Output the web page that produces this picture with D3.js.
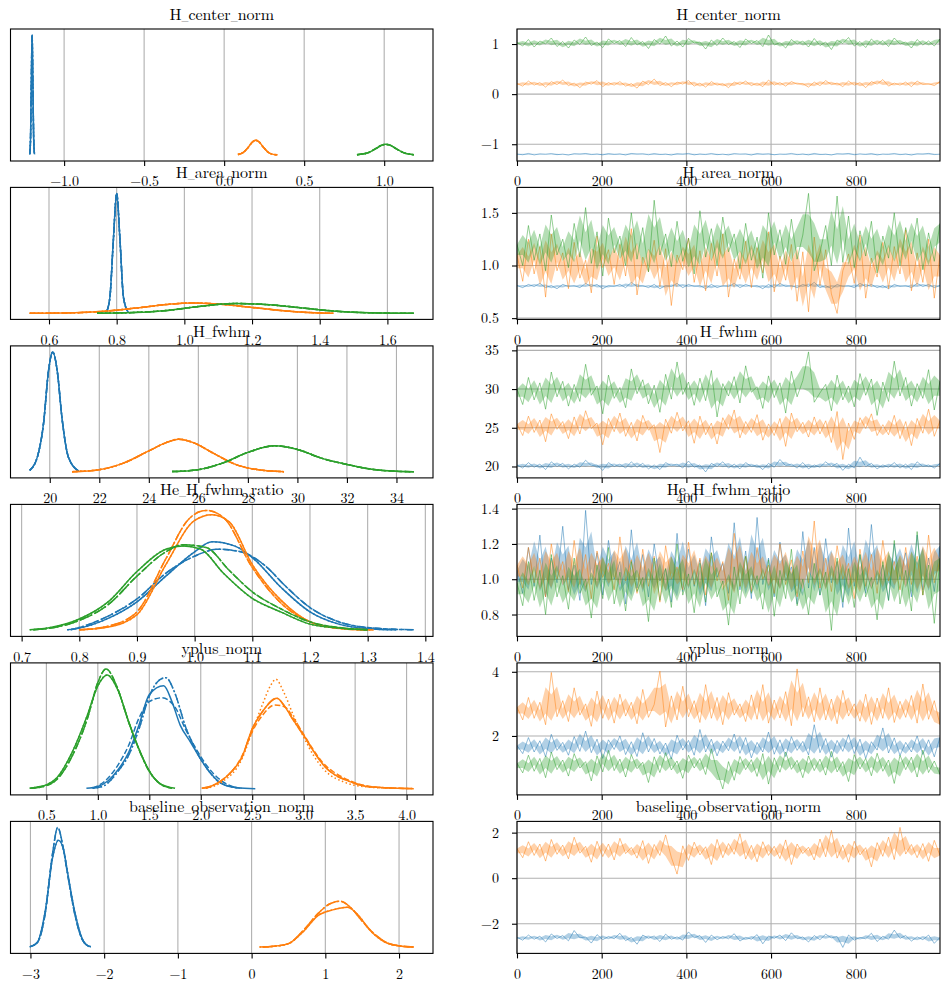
<!DOCTYPE html>
<html><head><meta charset="utf-8">
<script src="https://cdn.jsdelivr.net/npm/d3@7"></script>
<style>body{margin:0;background:#fff}</style>
</head><body><svg id="chart" width="950" height="991"></svg>
<script>
// ---------------- DATA ----------------
const variables = ["H_center_norm","H_area_norm","H_fwhm","He_H_fwhm_ratio","yplus_norm","baseline_observation_norm"];
const seriesColors = ["#1f77b4","#ff7f0e","#2ca02c"];
const drawTicks = [0,200,400,600,800];
const drawTickLabels = ["0","200","400","600","800"];
const kdeTicks = [[-1,-0.5,0,0.5,1],[0.6,0.8,1.0,1.2,1.4,1.6],[20,22,24,26,28,30,32,34],[0.7,0.8,0.9,1.0,1.1,1.2,1.3,1.4],[0.5,1,1.5,2,2.5,3,3.5,4],[-3,-2,-1,0,1,2]];
const kdeTickLabels = [["−1.0","−0.5","0.0","0.5","1.0"],["0.6","0.8","1.0","1.2","1.4","1.6"],["20","22","24","26","28","30","32","34"],["0.7","0.8","0.9","1.0","1.1","1.2","1.3","1.4"],["0.5","1.0","1.5","2.0","2.5","3.0","3.5","4.0"],["−3","−2","−1","0","1","2"]];
const traceTicks = [[-1,0,1],[0.5,1.0,1.5],[20,25,30,35],[0.8,1.0,1.2,1.4],[2,4],[-2,0,2]];
const traceTickLabels = [["−1","0","1"],["0.5","1.0","1.5"],["20","25","30","35"],["0.8","1.0","1.2","1.4"],["2","4"],["−2","0","2"]];

// KDE curves [value, density]
const kde_Hc_blue = [[-1.215,0.5],[-1.21,10],[-1.205,46],[-1.2,80],[-1.195,46],[-1.19,10],[-1.185,0.5]];
const kde_Hc_orange = [[0.086,0.3],[0.12,1.8],[0.15,5.0],[0.175,8.5],[0.197,9.9],[0.22,8.6],[0.245,5.2],[0.275,1.8],[0.3,0.6],[0.332,0.1]];
const kde_Hc_green = [[0.83,0.2],[0.9,1.5],[0.95,4.4],[0.98,6.3],[1.01,7.1],[1.04,6.4],[1.07,4.5],[1.12,1.6],[1.185,0.2]];

const kde_Ha_blue = [[0.77,0.5],[0.78,5.4],[0.79,24],[0.80,40],[0.81,24],[0.82,5.4],[0.834,0.4]];
const kde_Ha_orange = [[0.543,0.05],[0.65,0.15],[0.75,0.6],[0.85,1.7],[0.95,3.0],[1.02,3.5],[1.1,3.1],[1.2,2.0],[1.3,0.8],[1.4,0.15],[1.44,0.05]];
const kde_Ha_green = [[0.742,0.05],[0.85,0.3],[0.95,1.0],[1.05,2.4],[1.15,3.3],[1.25,2.9],[1.35,1.8],[1.45,0.7],[1.55,0.2],[1.678,0.03]];

const kde_Hf_blue = [[19.19,0.02],[19.5,0.2],[19.75,0.65],[19.95,1.35],[20.12,1.6],[20.3,1.35],[20.5,0.7],[20.75,0.2],[21.17,0.01]];
const kde_Hf_orange = [[20.9,0.003],[22,0.03],[23,0.12],[24,0.28],[24.7,0.39],[25.2,0.437],[25.8,0.39],[26.6,0.25],[27.5,0.1],[28.5,0.025],[29.46,0.003]];
const kde_Hf_green = [[24.94,0.004],[26,0.03],[27,0.12],[28,0.26],[29.08,0.348],[30,0.3],[31,0.18],[32,0.1],[33,0.035],[34,0.008],[34.7,0.002]];

const kde_Hr_blue_a = [[0.779,0.02],[0.8,0.08],[0.85,0.42],[0.9,1.0],[0.95,1.9],[1.0,2.75],[1.03,3.1],[1.07,2.95],[1.1,2.55],[1.15,1.5],[1.2,0.65],[1.25,0.22],[1.3,0.06],[1.35,0.02]];
const kde_Hr_blue_b = [[0.785,0.02],[0.8,0.1],[0.85,0.5],[0.9,1.1],[0.95,2.0],[1.0,2.6],[1.04,2.84],[1.08,2.75],[1.12,2.3],[1.16,1.5],[1.2,0.8],[1.25,0.3],[1.3,0.1],[1.38,0.02]];
const kde_Hr_orange_a = [[0.8,0.02],[0.85,0.12],[0.9,0.55],[0.95,2.3],[1.0,3.85],[1.03,4.05],[1.06,3.8],[1.1,2.3],[1.15,1.05],[1.2,0.3],[1.25,0.08],[1.31,0.01]];
const kde_Hr_orange_b = [[0.8,0.02],[0.85,0.15],[0.9,0.65],[0.95,2.5],[0.99,3.9],[1.02,4.2],[1.05,3.95],[1.1,2.2],[1.15,0.95],[1.2,0.3],[1.25,0.07],[1.3,0.01]];
const kde_Hr_green_a = [[0.714,0.02],[0.75,0.1],[0.8,0.4],[0.85,1.0],[0.9,2.06],[0.95,2.84],[0.98,2.95],[1.01,2.85],[1.05,2.0],[1.1,1.12],[1.15,0.64],[1.2,0.22],[1.25,0.08],[1.3,0.02]];
const kde_Hr_green_b = [[0.72,0.02],[0.75,0.08],[0.8,0.35],[0.85,0.9],[0.9,1.9],[0.95,2.75],[0.98,3.0],[1.02,2.9],[1.06,2.1],[1.1,1.35],[1.15,0.75],[1.2,0.3],[1.25,0.1],[1.3,0.02]];

const kde_yp_blue_a = [[0.889,0.01],[1.0,0.045],[1.1,0.15],[1.2,0.36],[1.3,0.67],[1.4,1.17],[1.5,1.73],[1.64,1.89],[1.72,1.6],[1.8,1.17],[1.9,0.86],[2.0,0.54],[2.1,0.28],[2.2,0.1],[2.35,0.02],[2.53,0.005]];
const kde_yp_blue_b = [[0.95,0.01],[1.05,0.05],[1.2,0.33],[1.3,0.62],[1.4,1.1],[1.5,1.7],[1.6,2.0],[1.66,2.04],[1.75,1.75],[1.85,1.15],[1.95,0.72],[2.05,0.4],[2.2,0.1],[2.4,0.01]];
const kde_yp_blue_c = [[0.95,0.01],[1.1,0.2],[1.2,0.45],[1.3,0.8],[1.4,1.3],[1.5,1.6],[1.62,1.67],[1.75,1.5],[1.85,1.1],[1.95,0.75],[2.05,0.45],[2.2,0.15],[2.35,0.02]];
const kde_yp_orange_a = [[2.01,0.01],[2.1,0.05],[2.2,0.15],[2.3,0.32],[2.4,0.58],[2.5,1.1],[2.6,1.42],[2.74,1.66],[2.82,1.5],[2.9,1.26],[3.0,0.98],[3.1,0.68],[3.2,0.42],[3.3,0.26],[3.4,0.17],[3.5,0.1],[3.6,0.05],[3.8,0.02],[4.07,0.005]];
const kde_yp_orange_b = [[2.05,0.01],[2.2,0.12],[2.4,0.55],[2.5,1.05],[2.6,1.55],[2.68,1.9],[2.73,2.01],[2.8,1.8],[2.9,1.35],[3.0,0.95],[3.1,0.6],[3.2,0.35],[3.4,0.12],[3.6,0.04],[3.9,0.01]];
const kde_yp_orange_c = [[2.05,0.01],[2.2,0.15],[2.4,0.6],[2.5,1.05],[2.6,1.35],[2.72,1.54],[2.82,1.5],[2.9,1.3],[3.0,1.0],[3.1,0.7],[3.2,0.45],[3.3,0.3],[3.45,0.15],[3.6,0.06],[3.8,0.02],[4.07,0.005]];
const kde_yp_green_a = [[0.338,0.01],[0.4,0.03],[0.5,0.075],[0.6,0.2],[0.75,0.67],[0.9,1.36],[1.0,1.89],[1.09,2.09],[1.2,1.79],[1.3,1.23],[1.4,0.73],[1.5,0.33],[1.6,0.1],[1.75,0.01]];
const kde_yp_green_b = [[0.35,0.01],[0.5,0.06],[0.6,0.17],[0.75,0.6],[0.9,1.3],[1.0,1.95],[1.08,2.2],[1.18,1.9],[1.3,1.22],[1.4,0.72],[1.5,0.32],[1.6,0.1],[1.72,0.01]];

const kde_bo_blue_a = [[-3.01,0.02],[-2.95,0.06],[-2.9,0.15],[-2.8,0.96],[-2.7,2.39],[-2.62,2.86],[-2.55,2.6],[-2.5,2.04],[-2.4,0.96],[-2.3,0.24],[-2.25,0.08],[-2.18,0.02]];
const kde_bo_blue_b = [[-3.0,0.02],[-2.9,0.15],[-2.8,0.9],[-2.7,2.5],[-2.63,3.2],[-2.56,2.7],[-2.5,2.0],[-2.4,0.9],[-2.3,0.22],[-2.2,0.02]];
const kde_bo_orange_a = [[0.107,0.01],[0.3,0.03],[0.5,0.1],[0.7,0.42],[0.9,0.85],[1.1,1.0],[1.3,1.07],[1.45,0.85],[1.6,0.47],[1.8,0.15],[2.0,0.04],[2.197,0.01]];
const kde_bo_orange_b = [[0.15,0.01],[0.3,0.03],[0.5,0.1],[0.7,0.45],[0.9,0.9],[1.05,1.15],[1.2,1.23],[1.35,1.05],[1.5,0.7],[1.7,0.3],[1.9,0.08],[2.2,0.01]];

// chains per series: solid, dashed, dotted, dash-dot
const kdeChains = [
  [[kde_Hc_blue,kde_Hc_blue,kde_Hc_blue,kde_Hc_blue],[kde_Hc_orange,kde_Hc_orange,kde_Hc_orange,kde_Hc_orange],[kde_Hc_green,kde_Hc_green,kde_Hc_green,kde_Hc_green]],
  [[kde_Ha_blue,kde_Ha_blue,kde_Ha_blue,kde_Ha_blue],[kde_Ha_orange,kde_Ha_orange,kde_Ha_orange,kde_Ha_orange],[kde_Ha_green,kde_Ha_green,kde_Ha_green,kde_Ha_green]],
  [[kde_Hf_blue,kde_Hf_blue,kde_Hf_blue,kde_Hf_blue],[kde_Hf_orange,kde_Hf_orange,kde_Hf_orange,kde_Hf_orange],[kde_Hf_green,kde_Hf_green,kde_Hf_green,kde_Hf_green]],
  [[kde_Hr_blue_a,kde_Hr_blue_b,kde_Hr_blue_a,kde_Hr_blue_b],[kde_Hr_orange_a,kde_Hr_orange_b,kde_Hr_orange_a,kde_Hr_orange_b],[kde_Hr_green_a,kde_Hr_green_b,kde_Hr_green_a,kde_Hr_green_b]],
  [[kde_yp_blue_a,kde_yp_blue_c,kde_yp_blue_b,kde_yp_blue_b],[kde_yp_orange_a,kde_yp_orange_c,kde_yp_orange_b,kde_yp_orange_a],[kde_yp_green_a,kde_yp_green_b,kde_yp_green_a,kde_yp_green_b]],
  [[kde_bo_blue_a,kde_bo_blue_b,kde_bo_blue_a,kde_bo_blue_b],[kde_bo_orange_a,kde_bo_orange_b,kde_bo_orange_a,kde_bo_orange_b]]
];

// Trace values (thinned draws 0..999)
const trace_Hc_blue = [-1.196,-1.21,-1.184,-1.213,-1.192,-1.202,-1.186,-1.208,-1.198,-1.215,-1.188,-1.2,-1.185,-1.206,-1.194,-1.212,-1.186,-1.204,-1.192,-1.214,-1.185,-1.2,-1.19,-1.21,-1.186,-1.206,-1.196,-1.215,-1.188,-1.202,-1.184,-1.212,-1.194,-1.206,-1.185,-1.208,-1.198,-1.213,-1.186,-1.2,-1.192,-1.215,-1.185,-1.204,-1.19,-1.21,-1.196,-1.202,-1.184,-1.208,-1.194,-1.212,-1.184,-1.206,-1.198,-1.214,-1.188,-1.2,-1.185,-1.21,-1.192,-1.204,-1.186,-1.213,-1.196,-1.202,-1.185,-1.208,-1.194,-1.215,-1.19,-1.2,-1.184,-1.206,-1.198];
const trace_Hc_orange = [0.21,0.16,0.26,0.18,0.23,0.14,0.25,0.19,0.28,0.17,0.22,0.13,0.24,0.2,0.27,0.15,0.23,0.18,0.25,0.16,0.21,0.12,0.26,0.19,0.3,0.17,0.23,0.15,0.24,0.2,0.27,0.16,0.22,0.14,0.25,0.18,0.21,0.13,0.24,0.19,0.26,0.17,0.22,0.15,0.28,0.18,0.23,0.16,0.25,0.2,0.21,0.14,0.24,0.17,0.27,0.19,0.22,0.15,0.26,0.18,0.23,0.13,0.25,0.2,0.29,0.16,0.22,0.18,0.24,0.15,0.26,0.19,0.21,0.17,0.25];
const trace_Hc_green = [1.03,0.96,1.09,0.94,1.06,1.0,1.12,0.95,1.05,0.92,1.08,0.99,1.14,0.97,1.04,0.93,1.1,1.01,1.07,0.95,1.13,0.98,1.05,0.91,1.09,1.0,1.16,0.96,1.06,0.94,1.11,1.02,1.04,0.9,1.08,0.97,1.12,0.99,1.05,0.93,1.1,1.01,1.07,0.95,1.18,0.98,1.03,0.92,1.09,1.0,1.06,0.94,1.11,0.97,1.04,0.89,1.08,1.01,1.13,0.96,1.05,0.93,1.1,0.99,1.07,0.95,1.12,1.0,1.04,0.92,1.09,0.98,1.06,0.96,1.1];

const trace_Ha_blue = [0.81,0.79,0.82,0.8,0.83,0.79,0.81,0.78,0.82,0.8,0.81,0.79,0.83,0.8,0.82,0.78,0.81,0.8,0.82,0.79,0.84,0.8,0.81,0.79,0.82,0.78,0.81,0.8,0.83,0.79,0.82,0.8,0.81,0.78,0.82,0.79,0.81,0.8,0.83,0.79,0.82,0.8,0.81,0.78,0.82,0.79,0.83,0.8,0.81,0.79,0.82,0.8,0.84,0.79,0.81,0.78,0.82,0.8,0.81,0.79,0.83,0.8,0.82,0.79,0.81,0.78,0.82,0.8,0.81,0.79,0.83,0.8,0.82,0.79,0.81];
const trace_Ha_orange = [1.1,0.85,1.25,0.92,1.18,0.7,1.3,0.95,1.12,0.78,1.22,0.88,1.05,0.74,1.28,0.98,1.15,0.82,1.2,0.9,1.35,0.72,1.08,0.94,1.24,0.8,1.16,0.62,1.1,0.96,1.26,0.84,1.14,0.76,1.21,0.9,1.3,0.7,1.06,0.87,1.23,0.79,1.17,0.93,1.32,0.75,1.09,0.86,1.2,0.66,1.13,0.56,1.27,0.81,1.15,0.73,0.545,0.95,1.11,0.83,1.29,0.69,1.07,0.89,1.22,0.78,1.18,0.92,1.34,0.76,1.12,0.84,1.25,0.69,1.1];
const trace_Ha_green = [1.2,1.0,1.38,1.05,1.3,0.95,1.48,1.1,1.25,0.98,1.4,1.08,1.55,1.02,1.32,0.9,1.45,1.12,1.28,1.0,1.5,1.06,1.36,0.94,1.62,1.1,1.3,0.99,1.42,1.04,1.26,0.92,1.52,1.08,1.35,1.0,1.46,1.13,1.3,0.97,1.4,1.05,1.27,0.88,1.5,1.1,1.34,1.01,1.44,1.06,1.29,1.685,0.95,1.12,1.38,1.0,1.66,1.03,1.47,0.98,1.33,1.09,1.42,0.93,1.28,1.07,1.5,1.0,1.36,1.11,1.45,0.96,1.31,1.04,1.4];

const trace_Hf_blue = [20.2,19.8,20.5,19.9,20.3,19.6,20.6,20.0,20.4,19.7,20.3,19.9,20.8,20.1,20.2,19.5,20.5,20.0,20.3,19.8,20.6,19.9,20.4,19.7,20.2,19.6,20.5,20.1,20.3,19.8,20.7,19.9,20.2,19.3,20.4,20.0,20.6,19.8,20.3,19.7,20.5,20.0,20.2,19.6,20.4,19.9,20.9,20.1,20.3,19.8,20.5,19.7,20.2,19.9,20.6,20.0,20.4,19.5,20.3,19.8,21.2,20.0,20.4,19.7,20.2,19.9,20.5,19.8,20.3,19.6,20.6,20.0,20.2,19.8,20.4];
const trace_Hf_orange = [25.5,24.0,26.5,24.4,26.0,23.2,26.8,24.8,25.8,23.6,26.4,24.2,27.2,24.9,25.6,22.8,26.2,24.5,26.9,23.9,25.7,23.3,26.6,24.7,25.4,21.8,26.1,24.3,27.0,24.6,25.9,23.0,26.5,24.1,25.6,22.9,26.3,24.8,27.3,23.7,25.8,24.4,26.7,23.4,25.5,24.0,26.2,22.6,26.9,24.5,25.7,23.8,26.4,24.2,25.9,23.1,27.1,20.9,25.6,23.5,26.3,24.9,26.8,24.0,25.4,24.1,26.6,23.6,25.8,22.7,26.2,24.3,27.4,23.9,25.9];
const trace_Hf_green = [30.0,28.0,31.5,28.6,30.8,27.4,32.2,29.0,31.0,27.8,30.6,28.4,33.2,29.2,30.4,26.8,31.8,28.8,30.2,27.6,32.6,29.4,31.2,28.1,30.5,27.0,31.9,28.7,33.5,29.3,30.9,27.9,31.4,28.5,32.4,26.4,30.7,29.1,31.6,28.2,33.0,29.6,30.3,27.5,31.7,28.9,30.8,26.9,32.3,29.0,31.1,34.8,28.3,29.5,30.6,27.2,31.8,28.6,30.4,27.7,32.0,29.2,31.3,26.6,30.9,28.4,33.6,29.1,31.5,27.8,30.7,28.8,32.5,27.3,31.0];

const trace_Hr_blue = [1.05,0.92,1.18,0.96,1.25,0.9,1.12,0.98,1.3,0.94,1.08,0.88,1.39,0.97,1.15,0.91,1.22,1.0,1.1,0.86,1.28,0.95,1.14,0.9,1.2,0.99,1.06,0.87,1.26,0.93,1.17,0.96,1.11,0.85,1.24,1.01,1.09,0.92,1.32,0.94,1.16,0.89,1.35,0.97,1.12,0.9,1.21,0.99,1.07,0.86,1.27,0.95,1.18,0.91,1.23,0.98,1.1,0.84,1.29,0.96,1.14,0.92,1.31,0.97,1.08,0.88,1.2,1.0,1.15,0.9,1.25,0.94,1.12,0.93,1.19];
const trace_Hr_orange = [1.08,0.95,1.18,0.98,1.12,0.9,1.2,1.0,1.1,0.93,1.22,0.97,1.14,0.89,1.16,1.01,1.09,0.94,1.24,0.99,1.11,0.92,1.17,0.96,1.13,0.87,1.19,1.0,1.07,0.94,1.21,0.97,1.12,0.91,1.15,0.99,1.1,0.88,1.26,0.96,1.13,0.93,1.18,1.0,1.08,0.92,1.2,0.97,1.11,0.9,1.16,0.98,1.33,0.95,1.12,0.93,1.19,1.0,1.09,0.89,1.17,0.96,1.14,0.92,1.22,0.99,1.1,0.94,1.18,0.97,1.13,0.91,1.25,0.98,1.11];
const trace_Hr_green = [0.98,0.85,1.1,0.88,1.05,0.8,1.14,0.9,1.02,0.83,1.12,0.92,1.0,0.78,1.08,0.89,1.18,0.86,1.04,0.82,1.1,0.93,1.01,0.76,1.12,0.88,1.06,0.84,1.2,0.91,1.03,0.81,1.09,0.87,1.15,0.9,0.99,0.74,1.07,0.86,1.13,0.92,1.02,0.83,1.11,0.79,1.05,0.89,1.17,0.85,1.0,0.8,1.09,0.91,1.04,0.71,1.12,0.87,1.06,0.84,1.14,0.9,1.01,0.77,1.1,0.88,1.22,0.86,1.05,0.82,1.27,0.91,1.08,0.75,1.12];

const trace_yp_blue = [1.7,1.45,1.95,1.5,1.85,1.35,2.05,1.55,1.8,1.4,1.98,1.52,2.15,1.48,1.9,1.3,1.88,1.58,2.0,1.42,1.82,1.36,2.1,1.5,1.92,1.44,1.78,1.28,2.02,1.56,1.86,1.4,2.2,1.5,1.9,1.38,1.84,1.54,2.06,1.46,1.95,1.32,1.8,1.5,2.12,1.43,1.88,1.36,1.98,1.55,1.83,1.41,2.35,1.48,1.92,1.34,1.86,1.52,2.04,1.45,1.9,1.3,1.82,1.56,2.25,1.47,1.94,1.39,1.8,1.5,2.0,1.42,1.88,1.35,1.96];
const trace_yp_orange = [2.9,2.5,3.2,2.55,3.05,2.35,3.98,2.6,3.1,2.45,3.5,2.65,3.0,2.3,3.4,2.55,3.15,2.4,3.3,2.62,3.05,2.38,3.45,2.58,2.98,4.02,2.28,3.25,2.5,3.55,2.6,3.1,2.42,3.6,2.55,3.2,2.35,3.35,2.65,3.0,2.45,3.28,2.52,3.6,2.4,3.12,2.56,3.38,2.32,4.09,2.6,3.22,2.44,3.5,2.5,3.15,2.38,3.42,2.62,3.0,2.46,3.3,2.36,3.18,2.55,3.5,2.42,3.08,2.58,3.26,2.4,3.62,2.52,3.1,2.35];
const trace_yp_green = [1.15,0.85,1.4,0.9,1.3,0.7,1.5,0.95,1.25,0.75,1.45,1.0,1.2,0.6,1.38,0.88,1.55,0.92,1.28,0.72,1.42,0.98,1.18,0.55,1.35,0.86,1.48,0.94,1.22,0.68,1.4,1.0,1.3,0.8,1.6,0.9,0.35,1.2,0.62,1.36,0.95,1.26,0.74,1.45,0.5,1.32,0.87,1.5,0.96,1.24,0.7,1.38,0.92,1.28,0.78,1.52,0.88,1.2,0.58,1.42,0.97,1.3,0.76,1.46,0.9,1.25,0.52,1.4,0.95,1.34,0.72,1.56,0.86,1.22,0.8];

const trace_bo_blue = [-2.6,-2.72,-2.5,-2.68,-2.55,-2.8,-2.45,-2.65,-2.52,-2.75,-2.3,-2.62,-2.58,-2.85,-2.48,-2.7,-2.56,-2.66,-2.42,-2.74,-2.6,-2.9,-2.5,-2.64,-2.54,-2.78,-2.46,-2.68,-2.58,-2.72,-2.36,-2.62,-2.52,-2.82,-2.5,-2.7,-2.56,-2.66,-2.44,-2.76,-2.6,-2.68,-2.48,-2.88,-2.54,-2.64,-2.5,-2.74,-2.4,-2.66,-2.58,-2.8,-2.52,-2.7,-2.46,-2.62,-2.56,-3.04,-2.5,-2.72,-2.6,-2.66,-2.42,-2.78,-2.55,-2.68,-2.28,-2.64,-2.52,-2.76,-2.58,-2.7,-2.5,-2.86,-2.6];
const trace_bo_orange = [1.3,0.9,1.6,1.0,1.5,0.75,1.7,1.05,1.45,0.85,1.8,1.1,1.4,0.7,1.62,0.95,1.5,0.8,1.75,1.08,1.35,0.88,1.65,0.65,1.48,1.0,1.9,0.92,0.18,1.42,0.78,1.58,1.02,1.38,0.6,1.7,0.9,1.52,1.05,1.95,0.84,1.44,0.72,1.6,1.0,1.4,0.86,1.68,0.6,1.5,1.08,1.36,0.8,1.72,0.94,2.1,0.88,1.46,0.7,1.62,1.02,1.34,0.5,1.56,0.96,1.8,0.82,2.23,1.06,1.48,0.9,1.52,0.74,1.66,1.0];

const traces = [
  [trace_Hc_blue,trace_Hc_orange,trace_Hc_green],
  [trace_Ha_blue,trace_Ha_orange,trace_Ha_green],
  [trace_Hf_blue,trace_Hf_orange,trace_Hf_green],
  [trace_Hr_blue,trace_Hr_orange,trace_Hr_green],
  [trace_yp_blue,trace_yp_orange,trace_yp_green],
  [trace_bo_blue,trace_bo_orange]
];
const nDraws = 1000;

// ---------------- FONT PICK (first installed serif) ----------------
const svg = d3.select("#chart");
function pickFont(cands){
  const t = svg.append("text").attr("x",-999).attr("y",-999).style("font-size","40px").text("Hamburgefonstiv 0123");
  function w(f){t.style("font-family",f);return t.node().getComputedTextLength();}
  const wm = w("monospace"), ws = w("sans-serif");
  let found = null;
  for(const c of cands){
    if(Math.abs(w(`'${c}',monospace`)-wm)>0.5 && Math.abs(w(`'${c}',sans-serif`)-ws)>0.5){found=c;break;}
    if(Math.abs(w(`'${c}',monospace`)-wm)>0.5 && Math.abs(w(`'${c}',monospace`)-w(`'${c}',sans-serif`))<0.5){found=c;break;}
  }
  t.remove();
  return found;
}
const serifName = pickFont(["Latin Modern Roman","CMU Serif","Liberation Serif","DejaVu Serif","Noto Serif","Tinos","Times New Roman","Nimbus Roman","FreeSerif","Georgia"]);
const FONT = serifName ? `'${serifName}',serif` : "'DejaVu Sans',sans-serif";

// ---------------- LAYOUT ----------------
const rowTops = [29,187.4,345.9,504.4,662.9,821.4], rowH = 132;
const L = {x0:10.5, x1:433}, R = {x0:517, x1:940};
const dashes = [null,"5.6,2.4","1.5,2.5","9.6,2.4,1.5,2.4"];
const gridColor = "#b0b0b0";
function pad(lo,hi){const p=(hi-lo)*0.05;return [lo-p,hi+p];}

const defs = svg.append("defs");

function frame(g,x0,x1,top,bottom){
  g.append("rect").attr("x",x0).attr("y",top).attr("width",x1-x0).attr("height",bottom-top)
   .attr("fill","none").attr("stroke","#000").attr("stroke-width",1.1);
}
const tickFS = serifName ? 14 : 13;
const titleFS = serifName ? 16 : 14;
function styleAxis(a){
  a.attr("font-family",FONT).attr("font-size",null);
  a.select(".domain").remove();
  a.selectAll(".tick line").attr("stroke","#000").attr("stroke-width",1.1);
  a.selectAll(".tick text").style("font-family",FONT).style("font-size",tickFS+"px").attr("fill","#000");
}
// title with compact underscores (LaTeX-like \_)
function addTitle(g,x,y,name){
  const t = g.append("text").attr("x",x).attr("y",y).attr("text-anchor","middle")
    .style("font-family",FONT).style("font-size",titleFS+"px");
  name.split("_").forEach((p,i)=>{
    if(i>0){
      const u = t.append("tspan").text("_");
      const w = u.node().getComputedTextLength();
      if(w>7) u.style("font-size",(titleFS*7/w)+"px");
    }
    t.append("tspan").style("font-size",titleFS+"px").text(p);
  });
}
// core band of a trace: midpoint-smoothed 3-draw window
function coreBand(vals){
  return vals.map((v,i)=>{
    const w=[vals[Math.max(0,i-1)],v,vals[Math.min(vals.length-1,i+1)]].sort((a,b)=>a-b);
    return [w[0]*0.5+w[1]*0.5,w[2]*0.5+w[1]*0.5];
  });
}

variables.forEach((v,r)=>{
  const top = rowTops[r], bottom = top+rowH;
  // ---- left: KDE ----
  const chains = kdeChains[r];
  const pts = chains.flatMap(s=>s.flatMap(c=>c));
  const xL = d3.scaleLinear().domain(pad(d3.min(pts,d=>d[0]), d3.max(pts,d=>d[0]))).range([L.x0,L.x1]);
  const M = d3.max(pts,d=>d[1]);
  const yL = d3.scaleLinear().domain([-0.05*M,1.05*M]).range([bottom,top]);
  const gl = svg.append("g");
  const cidL = "clipL"+r;
  defs.append("clipPath").attr("id",cidL).append("rect").attr("x",L.x0).attr("y",top).attr("width",L.x1-L.x0).attr("height",rowH);
  gl.append("g").selectAll("line").data(kdeTicks[r]).join("line")
    .attr("x1",d=>xL(d)).attr("x2",d=>xL(d)).attr("y1",top).attr("y2",bottom)
    .attr("stroke",gridColor).attr("stroke-width",1.1);
  const lineK = d3.line().x(d=>xL(d[0])).y(d=>yL(d[1])).curve(d3.curveMonotoneX);
  const gk = gl.append("g").attr("clip-path",`url(#${cidL})`);
  chains.forEach((sc,s)=>{
    sc.forEach((curve,c)=>{
      gk.append("path").attr("d",lineK(curve)).attr("fill","none")
        .attr("stroke",seriesColors[s]).attr("stroke-width",1.5)
        .attr("stroke-dasharray",dashes[c]);
    });
  });
  const axL = gl.append("g").attr("transform",`translate(0,${bottom})`)
    .call(d3.axisBottom(xL).tickValues(kdeTicks[r]).tickFormat((d,i)=>kdeTickLabels[r][i]).tickSize(5).tickPadding(10.5));
  styleAxis(axL);
  frame(gl,L.x0,L.x1,top,bottom);
  addTitle(gl,(L.x0+L.x1)/2,top-9,v);

  // ---- right: trace ----
  const tr = traces[r];
  const allv = tr.flat();
  const xR = d3.scaleLinear().domain([0,nDraws-1]).range([R.x0,R.x1]);
  const yR = d3.scaleLinear().domain(pad(d3.min(allv),d3.max(allv))).range([bottom,top]);
  const gr = svg.append("g");
  const cidR = "clipR"+r;
  defs.append("clipPath").attr("id",cidR).append("rect").attr("x",R.x0).attr("y",top).attr("width",R.x1-R.x0).attr("height",rowH);
  gr.append("g").selectAll("line").data(drawTicks).join("line")
    .attr("x1",d=>xR(d)).attr("x2",d=>xR(d)).attr("y1",top).attr("y2",bottom)
    .attr("stroke",gridColor).attr("stroke-width",1.1);
  gr.append("g").selectAll("line").data(traceTicks[r]).join("line")
    .attr("x1",R.x0).attr("x2",R.x1).attr("y1",d=>yR(d)).attr("y2",d=>yR(d))
    .attr("stroke",gridColor).attr("stroke-width",1.1);
  const gt = gr.append("g").attr("clip-path",`url(#${cidR})`);
  tr.forEach((vals,s)=>{
    const n = vals.length;
    const xi = i=>xR(i*(nDraws-1)/(n-1));
    const band = coreBand(vals);
    const areaT = d3.area().x((d,i)=>xi(i)).y0(d=>yR(d[0])).y1(d=>yR(d[1]));
    gt.append("path").attr("d",areaT(band)).attr("fill",seriesColors[s]).attr("fill-opacity",0.35);
    const lineT = d3.line().x((d,i)=>xi(i)).y(d=>yR(d));
    gt.append("path").attr("d",lineT(vals)).attr("fill","none")
      .attr("stroke",seriesColors[s]).attr("stroke-width",1).attr("stroke-opacity",0.5);
  });
  const axRx = gr.append("g").attr("transform",`translate(0,${bottom})`)
    .call(d3.axisBottom(xR).tickValues(drawTicks).tickFormat((d,i)=>drawTickLabels[i]).tickSize(5).tickPadding(10.5));
  styleAxis(axRx);
  const axRy = gr.append("g").attr("transform",`translate(${R.x0},0)`)
    .call(d3.axisLeft(yR).tickValues(traceTicks[r]).tickFormat((d,i)=>traceTickLabels[r][i]).tickSize(5).tickPadding(13));
  styleAxis(axRy);
  frame(gr,R.x0,R.x1,top,bottom);
  addTitle(gr,(R.x0+R.x1)/2,top-9,v);
});
</script>
</body></html>
